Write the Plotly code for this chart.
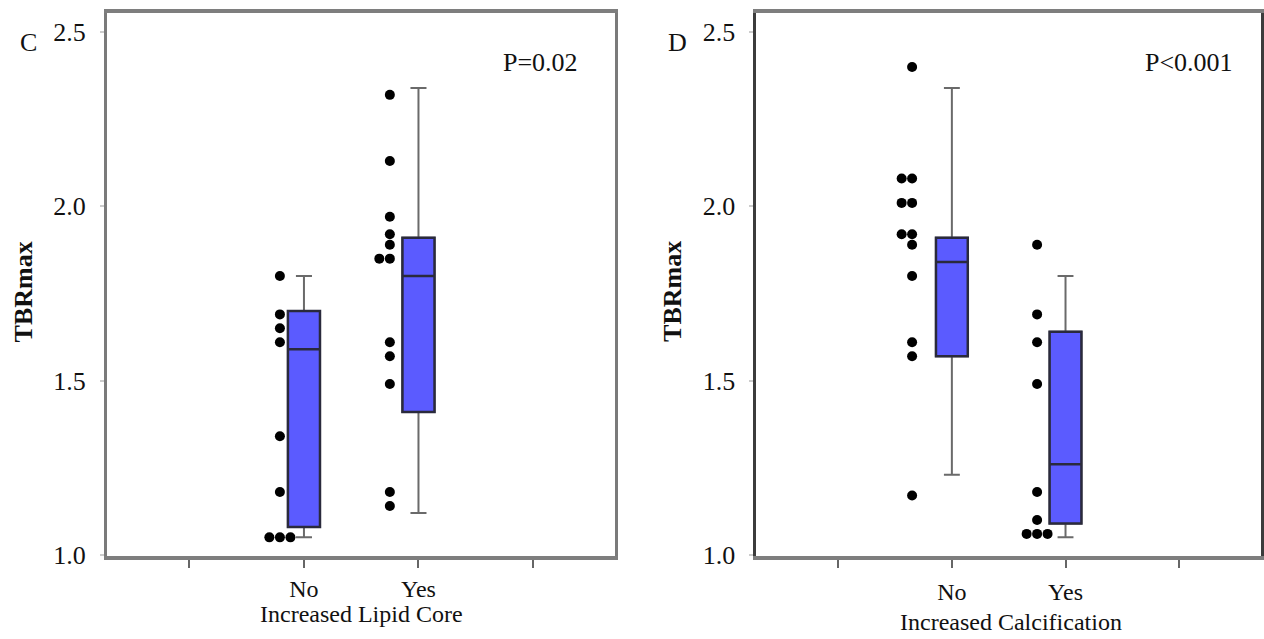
import plotly.graph_objects as go

# ---------------- data ----------------
categories = ["No", "Yes"]
y_ticks = [1.0, 1.5, 2.0, 2.5]
y_tick_labels = ["1.0", "1.5", "2.0", "2.5"]

# Panel C: Increased Lipid Core
c_q1 = [1.08, 1.41]
c_median = [1.59, 1.80]
c_q3 = [1.70, 1.91]
c_lower = [1.05, 1.12]
c_upper = [1.80, 2.34]
c_no_dots = [1.80, 1.69, 1.65, 1.61, 1.34, 1.18, 1.05, 1.05, 1.05]
c_yes_dots = [2.32, 2.13, 1.97, 1.92, 1.89, 1.85, 1.85, 1.61, 1.57, 1.49, 1.18, 1.14]

# Panel D: Increased Calcification
d_q1 = [1.57, 1.09]
d_median = [1.84, 1.26]
d_q3 = [1.91, 1.64]
d_lower = [1.23, 1.05]
d_upper = [2.34, 1.80]
d_no_dots = [2.40, 2.08, 2.08, 2.01, 2.01, 1.92, 1.92, 1.89, 1.80, 1.61, 1.57, 1.17]
d_yes_dots = [1.89, 1.69, 1.61, 1.49, 1.18, 1.10, 1.06, 1.06, 1.06]

# ---------------- style ----------------
FONT = "Liberation Serif"
BOX_FILL = "#5b5bff"
BOX_LINE = "#2a2a3c"
WHISKER = "#6a6a6a"
cat_pos = {"No": 1, "Yes": 2}
dot_offset = {("C", "No"): -0.21, ("C", "Yes"): -0.25,
              ("D", "No"): -0.35, ("D", "Yes"): -0.25}
COL_STEP = 0.092
SWARM_THR = 0.028


def swarm_cols(vals, thr=SWARM_THR):
    order = sorted(range(len(vals)), key=lambda i: vals[i])
    placed = []
    cols = [0] * len(vals)
    for i in order:
        v = vals[i]
        for c in [0, 1, -1, 2, -2, 3]:
            if all(not (pc == c and abs(pv - v) < thr) for pv, pc in placed):
                break
        placed.append((v, c))
        cols[i] = c
    return cols


fig = go.Figure()

panels = [
    ("C", "x", "y", c_q1, c_median, c_q3, c_lower, c_upper, {"No": c_no_dots, "Yes": c_yes_dots}),
    ("D", "x2", "y2", d_q1, d_median, d_q3, d_lower, d_upper, {"No": d_no_dots, "Yes": d_yes_dots}),
]

for name, xa, ya, q1, med, q3, lo, up, dots in panels:
    xs = [cat_pos[c] for c in categories]
    # whiskers (grey)
    fig.add_trace(go.Box(
        x=xs, q1=q1, median=med, q3=q3, lowerfence=lo, upperfence=up,
        width=0.28, whiskerwidth=0.5, fillcolor=BOX_FILL,
        line=dict(color=WHISKER, width=2), boxpoints=False,
        xaxis=xa, yaxis=ya, showlegend=False, hoverinfo="skip"))
    # box body (dark outline)
    fig.add_trace(go.Box(
        x=xs, q1=q1, median=med, q3=q3, lowerfence=q1, upperfence=q3,
        width=0.28, whiskerwidth=0, fillcolor=BOX_FILL,
        line=dict(color=BOX_LINE, width=2.5), boxpoints=False,
        xaxis=xa, yaxis=ya, showlegend=False, hoverinfo="skip"))
    for cat in categories:
        vals = dots[cat]
        cols = swarm_cols(vals)
        xdots = [cat_pos[cat] + dot_offset[(name, cat)] - c * COL_STEP for c in cols]
        fig.add_trace(go.Scatter(
            x=xdots, y=vals, mode="markers",
            marker=dict(color="black", size=10, line=dict(width=0)),
            xaxis=xa, yaxis=ya, showlegend=False))

ytick_font = dict(family=FONT, size=26, color="#111111")
xtick_font = dict(family=FONT, size=24, color="#111111")

xaxis_common = dict(
    range=[-0.72, 3.72], tickmode="array", tickvals=[0, 1, 2, 3],
    ticktext=["", "No", "Yes", ""], ticks="outside", ticklen=8, tickwidth=2,
    tickcolor="#666666", showline=True, linewidth=4, linecolor="#7e7e7e",
    mirror=True, showgrid=False, zeroline=False, tickfont=xtick_font,
    fixedrange=True)
yaxis_common = dict(
    range=[0.997, 2.555], tickmode="array", tickvals=y_ticks, ticktext=y_tick_labels,
    ticks="outside", ticklen=4, tickwidth=2, tickcolor="#cccccc",
    showline=True, linewidth=3, mirror=True, showgrid=False, zeroline=False,
    tickfont=ytick_font, ticklabelstandoff=9, fixedrange=True)

fig.update_layout(
    width=1264, height=654,
    margin=dict(l=0, r=0, t=0, b=0),
    paper_bgcolor="white", plot_bgcolor="white",
    xaxis=dict(domain=[0.0847, 0.4873], anchor="y", ticklabelstandoff=0, **xaxis_common),
    yaxis=dict(domain=[0.1315, 0.9797], anchor="x", linecolor="#7a7a7a", **yaxis_common),
    xaxis2=dict(domain=[0.5989, 0.9984], anchor="y2", ticklabelstandoff=3, **xaxis_common),
    yaxis2=dict(domain=[0.1315, 0.9797], anchor="x2", linecolor="#3c3c3c", **yaxis_common),
)

ann_font = dict(family=FONT, size=26, color="#111111")
xt_font = dict(family=FONT, size=24, color="#111111")
annotations = [
    dict(text="C", x=0.0222, y=0.934, font=ann_font),
    dict(text="D", x=0.5364, y=0.934, font=ann_font),
    dict(text="P=0.02", x=0.428, y=0.903, font=ann_font),
    dict(text="P<0.001", x=0.9415, y=0.903, font=ann_font),
    dict(text="<b>TBRmax</b>", x=0.0182, y=0.5446, textangle=-90, font=ann_font),
    dict(text="<b>TBRmax</b>", x=0.5324, y=0.5446, textangle=-90, font=ann_font),
    dict(text="Increased Lipid Core", x=0.2864, y=0.0410, font=xt_font),
    dict(text="Increased Calcification", x=0.8006, y=0.0275, font=xt_font),
]
for a in annotations:
    fig.add_annotation(xref="paper", yref="paper", showarrow=False,
                       xanchor="center", yanchor="middle", **a)

fig.write_html(
    "out.html",
    config={"displayModeBar": False},
    post_script="document.body.style.margin='0';",
)
